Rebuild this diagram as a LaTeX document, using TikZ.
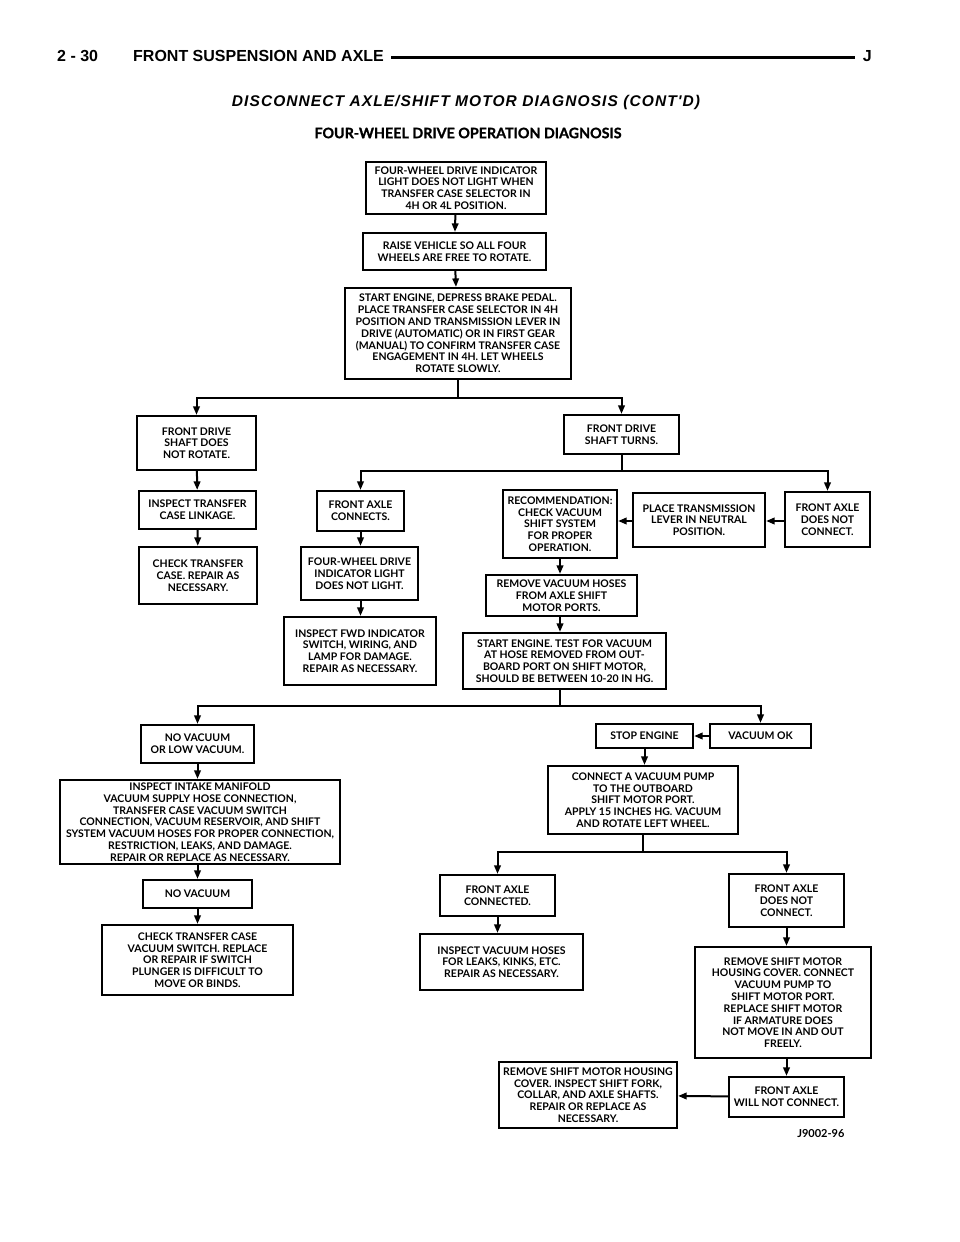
\documentclass[tikz,border=0pt]{standalone}
\usepackage{fontspec}
\setmainfont{Lato}
\newfontfamily\hdr{Liberation Sans}
\newfontfamily\ttl{Liberation Sans}[LetterSpace=7]
\newfontfamily\heavy{Lato}[BoldFeatures={FakeBold=1.2}]
\usetikzlibrary{arrows.meta}
\tikzset{
  bx/.style={draw, line width=2.2pt, inner sep=0pt, align=center,
    font=\bfseries\fontsize{10.5}{11.8}\selectfont},
  arr/.style={line width=2pt, -{Triangle[length=8.5pt,width=6.5pt]}},
  ln/.style={line width=2pt},
}
\newcommand\bx[6]{\node[bx, minimum width={#4-#2}, minimum height={#5-#3}] (#1) at ({(#2+#4)/2},{(#3+#5)/2}) {#6};}
\begin{document}
\begin{tikzpicture}[x=1pt,y=-1pt]
\useasboundingbox[fill=white] (0,0) rectangle (960,1242);
% header
\node[anchor=west, font=\hdr\bfseries\fontsize{16}{18}\selectfont, inner sep=0] (pg) at (57,56) {2 - 30};
\node[anchor=west, font=\hdr\bfseries\fontsize{16}{18}\selectfont, inner sep=0] (hd) at (133,56) {FRONT SUSPENSION AND AXLE};
\node[anchor=east, font=\hdr\bfseries\fontsize{16}{18}\selectfont, inner sep=0] (jj) at (872,56) {J};
\coordinate (r1) at (391,57.5);
\coordinate (r2) at (855,57.5);
\draw[line width=2.2pt] (r1) -- (r2);
\node[font=\ttl\bfseries\itshape\fontsize{15.5}{18}\selectfont, inner sep=0] (title) at (466,102) {DISCONNECT AXLE/SHIFT MOTOR DIAGNOSIS (CONT'D)};
\node[font=\heavy\bfseries\fontsize{14.3}{16}\selectfont, inner sep=0] (sub) at (468,133) {FOUR-WHEEL DRIVE OPERATION DIAGNOSIS};
% boxes
\bx{B1}{366}{162}{546}{214}{FOUR-WHEEL DRIVE INDICATOR\\LIGHT DOES NOT LIGHT WHEN\\TRANSFER CASE SELECTOR IN\\4H OR 4L POSITION.}
\bx{B2}{363}{233}{546}{270}{RAISE VEHICLE SO ALL FOUR\\WHEELS ARE FREE TO ROTATE.}
\bx{B3}{345}{288}{571}{379}{START ENGINE, DEPRESS BRAKE PEDAL.\\PLACE TRANSFER CASE SELECTOR IN 4H\\POSITION AND TRANSMISSION LEVER IN\\DRIVE (AUTOMATIC) OR IN FIRST GEAR\\(MANUAL) TO CONFIRM TRANSFER CASE\\ENGAGEMENT IN 4H. LET WHEELS\\ROTATE SLOWLY.}
\bx{B4}{137}{416}{256}{470}{FRONT DRIVE\\SHAFT DOES\\NOT ROTATE.}
\bx{B5}{564}{415}{679}{454}{FRONT DRIVE\\SHAFT TURNS.}
\bx{B14}{139}{491}{256}{529}{INSPECT TRANSFER\\CASE LINKAGE.}
\bx{B15}{139}{547}{257}{604}{CHECK TRANSFER\\CASE. REPAIR AS\\NECESSARY.}
\bx{B6}{317}{491}{404}{531}{FRONT AXLE\\CONNECTS.}
\bx{B12}{301}{547}{418}{600}{FOUR-WHEEL DRIVE\\INDICATOR LIGHT\\DOES NOT LIGHT.}
\bx{B13}{284}{617}{436}{685}{INSPECT FWD INDICATOR\\SWITCH, WIRING, AND\\LAMP FOR DAMAGE.\\REPAIR AS NECESSARY.}
\bx{B7}{503}{490}{617}{558}{RECOMMENDATION:\\CHECK VACUUM\\SHIFT SYSTEM\\FOR PROPER\\OPERATION.}
\bx{B8}{633}{493}{765}{547}{PLACE TRANSMISSION\\LEVER IN NEUTRAL\\POSITION.}
\bx{B9}{785}{492}{870}{547}{FRONT AXLE\\DOES NOT\\CONNECT.}
\bx{B10}{486}{575}{637}{616}{REMOVE VACUUM HOSES\\FROM AXLE SHIFT\\MOTOR PORTS.}
\bx{B11}{463}{633}{666}{689}{START ENGINE. TEST FOR VACUUM\\AT HOSE REMOVED FROM OUT-\\BOARD PORT ON SHIFT MOTOR,\\SHOULD BE BETWEEN 10-20 IN HG.}
\bx{B16}{141}{725}{254}{763}{NO VACUUM\\OR LOW VACUUM.}
\bx{B17}{60}{780}{340}{864}{INSPECT INTAKE MANIFOLD\\VACUUM SUPPLY HOSE CONNECTION,\\TRANSFER CASE VACUUM SWITCH\\CONNECTION, VACUUM RESERVOIR, AND SHIFT\\SYSTEM VACUUM HOSES FOR PROPER CONNECTION,\\RESTRICTION, LEAKS, AND DAMAGE.\\REPAIR OR REPLACE AS NECESSARY.}
\bx{B18}{143}{880}{252}{908}{NO VACUUM}
\bx{B19}{102}{925}{293}{995}{CHECK TRANSFER CASE\\VACUUM SWITCH. REPLACE\\OR REPAIR IF SWITCH\\PLUNGER IS DIFFICULT TO\\MOVE OR BINDS.}
\bx{B20}{596}{724}{693}{748}{STOP ENGINE}
\bx{B21}{710}{724}{811}{748}{VACUUM OK}
\bx{B22}{548}{766}{738}{834}{CONNECT A VACUUM PUMP\\TO THE OUTBOARD\\SHIFT MOTOR PORT.\\APPLY 15 INCHES HG. VACUUM\\AND ROTATE LEFT WHEEL.}
\bx{B23}{440}{875}{555}{916}{FRONT AXLE\\CONNECTED.}
\bx{B24}{420}{934}{583}{990}{INSPECT VACUUM HOSES\\FOR LEAKS, KINKS, ETC.\\REPAIR AS NECESSARY.}
\bx{B25}{729}{874}{844}{927}{FRONT AXLE\\DOES NOT\\CONNECT.}
\bx{B26}{695}{947}{871}{1058}{REMOVE SHIFT MOTOR\\HOUSING COVER. CONNECT\\VACUUM PUMP TO\\SHIFT MOTOR PORT.\\REPLACE SHIFT MOTOR\\IF ARMATURE DOES\\NOT MOVE IN AND OUT\\FREELY.}
\bx{B27}{729}{1077}{844}{1117}{FRONT AXLE\\WILL NOT CONNECT.}
\bx{B28}{499}{1062}{677}{1128}{REMOVE SHIFT MOTOR HOUSING\\COVER. INSPECT SHIFT FORK,\\COLLAR, AND AXLE SHAFTS.\\REPAIR OR REPLACE AS\\NECESSARY.}
\node[font=\bfseries\fontsize{11}{13}\selectfont, anchor=east] (code) at (848,1134) {J9002-96};
% connectors
\draw[arr] (B1) -- (B2);
\draw[arr] (B2) -- (B1.south |- B3.north);
\coordinate (j1) at (B3.south |- 0,398);
\draw[ln] (B3.south) -- (j1);
\draw[arr] (j1) -| (B4.north);
\draw[arr] (j1) -| (B5.north);
\draw[arr] (B4) -- (B14);
\draw[arr] (B14) -- (B15);
\coordinate (j2) at (B5.south |- 0,471);
\draw[ln] (B5.south) -- (j2);
\draw[arr] (j2) -| (B6.north);
\draw[arr] (j2) -| (B9.north);
\draw[arr] (B6) -- (B6.south |- B12.north);
\draw[arr] (B6.south |- B12.south) -- (B6.south |- B13.north);
\draw[arr] (B9.west |- 0,521) -- (B8.east |- 0,521);
\draw[arr] (B8.west |- 0,521) -- (B7.east |- 0,521);
\draw[arr] (B7.south) -- (B7.south |- B10.north);
\draw[arr] (B7.south |- B10.south) -- (B7.south |- B11.north);
\coordinate (j3) at (B7.south |- 0,706);
\draw[ln] (B7.south |- B11.south) -- (j3);
\draw[arr] (j3) -| (B16.north);
\draw[arr] (j3) -| (B21.north);
\draw[arr] (B21) -- (B20);
\draw[arr] (B20.south) -- (B20.south |- B22.north);
\draw[arr] (B16) -- (B16.south |- B17.north);
\draw[arr] (B16.south |- B17.south) -- (B16.south |- B18.north);
\draw[arr] (B18) -- (B18.south |- B19.north);
\coordinate (j4) at (B22.south |- 0,852);
\draw[ln] (B22.south) -- (j4);
\draw[arr] (j4) -| (B23.north);
\draw[arr] (j4) -| (B25.north);
\draw[arr] (B23.south) -- (B23.south |- B24.north);
\draw[arr] (B25) -- (B25.south |- B26.north);
\draw[arr] (B26.south -| B27.north) -- (B27.north);
\draw[arr] (B27) -- (B28);
\end{tikzpicture}
\end{document}
